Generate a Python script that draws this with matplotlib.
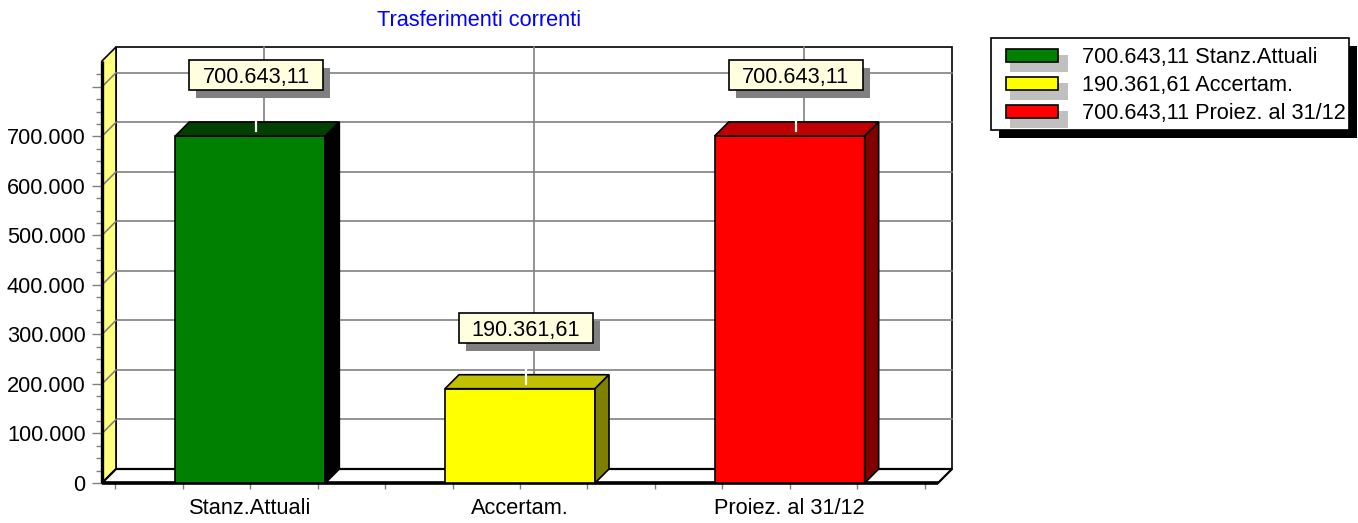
import matplotlib
matplotlib.use('Agg')
import matplotlib.pyplot as plt
import matplotlib.transforms as mtransforms
from matplotlib.patches import Polygon, Rectangle
from matplotlib.ticker import FixedLocator, FixedFormatter

# ---------------- data ----------------
categories = ['Stanz.Attuali', 'Accertam.', 'Proiez. al 31/12']
values = [700643.11, 190361.61, 700643.11]
front_colors = ['#008000', '#FFFF00', '#FF0000']
top_colors = ['#004000', '#C0C000', '#C00000']
side_colors = ['#000000', '#808000', '#800000']
title = 'Trasferimenti correnti'
ytick_values = [0, 100000, 200000, 300000, 400000, 500000, 600000, 700000, 800000]
ytick_labels = ['0', '100.000', '200.000', '300.000', '400.000', '500.000',
                '600.000', '700.000', '']
yminor_values = [v for v in range(0, 825001, 25000) if v % 100000 != 0]
xminor_values = [-0.5, -0.25, 0.25, 0.5, 0.75, 1.25, 1.5, 1.75, 2.25, 2.5]


def fmt_it(v):
    s = f"{v:,.2f}"
    return s.replace(',', 'X').replace('.', ',').replace('X', '.')


W, H, DPI = 1358, 523, 100
plt.rcParams['font.family'] = ['Liberation Sans', 'DejaVu Sans']
FS = 15.7
fig = plt.figure(figsize=(W / DPI, H / DPI), dpi=DPI)
fig.patch.set_facecolor('white')

AX_L, AX_B, AX_W, AX_H = 102, 40, 836, 422
ax = fig.add_axes([AX_L / W, AX_B / H, AX_W / W, AX_H / H])
xmin, xmax = -0.55, 2.55
ymin, ymax = 0, 852000
ax.set_xlim(xmin, xmax)
ax.set_ylim(ymin, ymax)
for s in ax.spines.values():
    s.set_visible(False)
ax.patch.set_visible(False)

# depth offset (pixels -> data)
DX_PX, DY_PX = 14, 14
dx = DX_PX * (xmax - xmin) / AX_W
dy = DY_PX * (ymax - ymin) / AX_H
EDGE = 1.2
GRID = '#808080'

# back wall
ax.add_patch(Rectangle((xmin + dx, dy), xmax - xmin, ymax - ymin, fc='white',
                       ec='black', lw=EDGE, zorder=0, clip_on=False))
for v in ytick_values[1:]:
    ax.plot([xmin + dx, xmax + dx], [v + dy, v + dy], color=GRID, lw=1.2,
            zorder=1, clip_on=False)
for i in range(len(categories)):
    ax.plot([i + dx, i + dx], [dy, ymax + dy], color=GRID, lw=1.2, zorder=1,
            clip_on=False)

# left wall
ax.add_patch(Polygon([(xmin, 0), (xmin + dx, dy), (xmin + dx, ymax + dy), (xmin, ymax)],
                     closed=True, fc='#FFFF80', ec='black', lw=EDGE, zorder=2,
                     clip_on=False))
for v in ytick_values[1:]:
    ax.plot([xmin, xmin + dx], [v, v + dy], color=GRID, lw=1.2, zorder=2.5,
            clip_on=False)
# floor
ax.add_patch(Polygon([(xmin, 0), (xmax, 0), (xmax + dx, dy), (xmin + dx, dy)],
                     closed=True, fc='white', ec='black', lw=1.6, zorder=2,
                     clip_on=False))
# front axis lines
ax.plot([xmin, xmax], [0, 0], color='black', lw=2.6, zorder=3, clip_on=False,
        solid_capstyle='butt')
ax.plot([xmin, xmin], [0, ymax], color='black', lw=2.4, zorder=3, clip_on=False,
        solid_capstyle='butt')

# bars
bw = 150 / (AX_W / (xmax - xmin))
for i, v in enumerate(values):
    x0, x1 = i - bw / 2, i + bw / 2
    ax.add_patch(Rectangle((x0, 0), bw, v, fc=front_colors[i], ec='black',
                           lw=EDGE, zorder=4, clip_on=False))
    ax.add_patch(Polygon([(x0, v), (x1, v), (x1 + dx, v + dy), (x0 + dx, v + dy)],
                         closed=True, fc=top_colors[i], ec='black', lw=EDGE,
                         zorder=4, clip_on=False))
    ax.add_patch(Polygon([(x1, 0), (x1 + dx, dy), (x1 + dx, v + dy), (x1, v)],
                         closed=True, fc=side_colors[i], ec='black', lw=EDGE,
                         zorder=4, clip_on=False))

    # value mark (pixel offsets around the bar top)
    tr = mtransforms.Affine2D() + mtransforms.ScaledTranslation(i, v, ax.transData)
    ax.plot([6, 6], [5, 40], color='white', lw=1.6, transform=tr, zorder=5,
            clip_on=False)
    ax.add_patch(Rectangle((-61 + 7, 46 - 8), 134, 30, fc='#808080', ec='none',
                           transform=tr, zorder=6, clip_on=False))
    ax.add_patch(Rectangle((-61, 46), 134, 30, fc='#FFFFE0', ec='black', lw=1.2,
                           transform=tr, zorder=7, clip_on=False))
    ax.text(6, 53, fmt_it(v), transform=tr, ha='center', va='baseline',
            fontsize=FS, color='black', zorder=8, clip_on=False)

# ticks
ax.yaxis.set_major_locator(FixedLocator(ytick_values))
ax.yaxis.set_major_formatter(FixedFormatter(ytick_labels))
ax.yaxis.set_minor_locator(FixedLocator(yminor_values))
ax.xaxis.set_major_locator(FixedLocator(list(range(len(categories)))))
ax.xaxis.set_major_formatter(FixedFormatter(categories))
ax.xaxis.set_minor_locator(FixedLocator(xminor_values))
ax.tick_params(axis='y', which='major', direction='out', length=7.5, width=1.0,
               color=GRID, labelsize=FS, pad=4.3, labelcolor='black')
ax.tick_params(axis='y', which='minor', direction='out', length=4.3, width=1.0,
               color=GRID)
ax.tick_params(axis='x', which='both', direction='out', length=4.3, width=1.0,
               color=GRID, labelsize=FS, pad=6.5, labelcolor='black')

# title
fig.text(479 / W, 1 - 26 / H, title, color='#0000FF', fontsize=FS,
         ha='center', va='baseline')

# legend
LG_L, LG_T, LG_W, LG_H = 991, 38, 358, 92
lax = fig.add_axes([LG_L / W, 1 - (LG_T + LG_H) / H, LG_W / W, LG_H / H])
lax.set_xlim(0, LG_W)
lax.set_ylim(LG_H, 0)
lax.axis('off')
lax.add_patch(Rectangle((8, 8), LG_W, LG_H, fc='black', ec='none', zorder=0,
                        clip_on=False))
lax.add_patch(Rectangle((0, 0), LG_W, LG_H, fc='white', ec='black', lw=1.2,
                        zorder=1, clip_on=False))
row_tops = [11, 39, 67]
for i, (cat, v) in enumerate(zip(categories, values)):
    t = row_tops[i]
    lax.add_patch(Rectangle((19, t + 6), 58, 17, fc='#C0C0C0', ec='none',
                            zorder=2, clip_on=False))
    lax.add_patch(Rectangle((15, t), 52, 13, fc=front_colors[i], ec='black',
                            lw=1.2, zorder=3, clip_on=False))
    lax.text(91, t + 6.5 + 8, f"{fmt_it(v)} {cat}", fontsize=FS, ha='left',
             va='baseline', color='black', zorder=4)

fig.savefig('out.png', dpi=DPI, facecolor='white')
